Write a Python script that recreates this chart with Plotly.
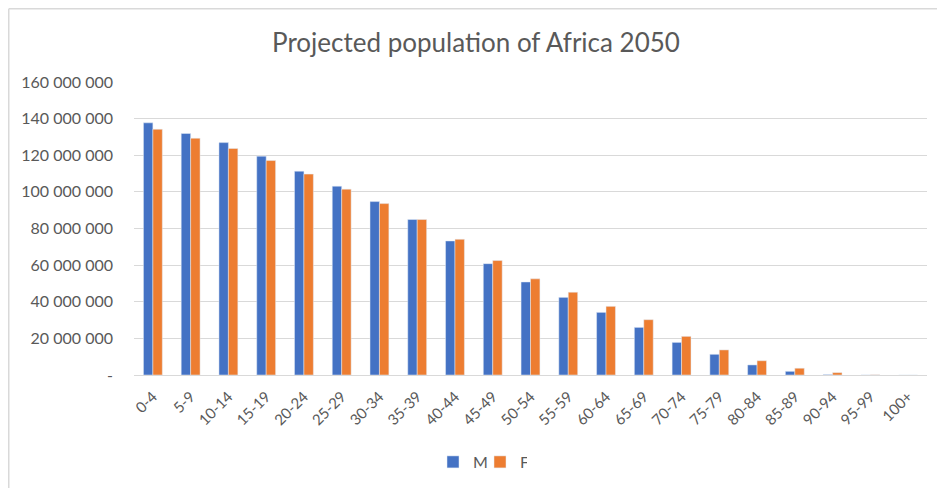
import plotly.graph_objects as go

age_groups = ["0-4", "5-9", "10-14", "15-19", "20-24", "25-29", "30-34", "35-39",
              "40-44", "45-49", "50-54", "55-59", "60-64", "65-69", "70-74", "75-79",
              "80-84", "85-89", "90-94", "95-99", "100+"]

male = [137.7, 131.9, 126.9, 119.5, 111.3, 103.1, 94.7, 84.9, 73.2, 60.8, 50.8,
        42.4, 34.2, 26.0, 17.8, 11.3, 5.5, 2.0, 0.25, 0.03, 0.0]
female = [134.2, 129.3, 123.7, 117.1, 109.7, 101.5, 93.6, 84.9, 74.1, 62.5, 52.5,
          45.2, 37.5, 30.2, 21.1, 13.7, 7.8, 3.7, 1.3, 0.12, 0.01]
male = [v * 1e6 for v in male]
female = [v * 1e6 for v in female]

y_ticks = [0, 20e6, 40e6, 60e6, 80e6, 100e6, 120e6, 140e6, 160e6]
y_labels = ["-", "20 000 000", "40 000 000", "60 000 000", "80 000 000",
            "100 000 000", "120 000 000", "140 000 000", "160 000 000"]

# page body adds an 8px offset, so the figure is sized/placed to compensate
W, H = 937, 480
L, R, T, B = 126, 18, 74, 113
pw, ph = W - L - R, H - T - B

font = "Lato"
grey = "#595959"

fig = go.Figure()
fig.add_trace(go.Bar(x=age_groups, y=male, name="M", marker_color="#4472C4"))
fig.add_trace(go.Bar(x=age_groups, y=female, name="F", marker_color="#ED7D31"))

# chart-area border (top and left only visible)
bx0 = (0.75 - L) / pw
by_top = (H - B - 0.75) / ph
by_bot = -(B + 5) / ph
bx1 = (W + 5 - L) / pw
fig.add_shape(type="line", xref="paper", yref="paper", x0=bx0, x1=bx1, y0=by_top, y1=by_top,
              line=dict(color="#D9D9D9", width=1.5))
fig.add_shape(type="line", xref="paper", yref="paper", x0=bx0, x1=bx0, y0=by_top, y1=by_bot,
              line=dict(color="#D9D9D9", width=1.5))

fig.update_layout(
    width=W, height=H,
    margin=dict(l=L, r=R, t=T, b=B, autoexpand=False),
    plot_bgcolor="white", paper_bgcolor="white",
    barmode="group", bargap=0.5, bargroupgap=0.0,
    title=dict(text="Projected population of Africa 2050", x=(468 - L) / pw, xanchor="center",
               xref="paper", y=1 - 35 / H, yanchor="middle",
               font=dict(family=font, size=26, color=grey)),
    font=dict(family=font, size=16, color=grey),
    legend=dict(orientation="h", x=(425 - L) / pw, xanchor="left", y=-87 / ph,
                yanchor="middle", font=dict(size=16, color=grey), itemwidth=30,
                entrywidth=2, entrywidthmode="pixels"),
    showlegend=True,
)
fig.update_xaxes(tickangle=-45, showgrid=False, showline=True, linecolor="#D9D9D9",
                 linewidth=1, ticks="", tickfont=dict(size=15, color=grey),
                 ticklabelstandoff=6, automargin=False)
fig.update_yaxes(range=[0, 160e6], tickvals=y_ticks, ticktext=y_labels,
                 showgrid=True, gridcolor="#D9D9D9", gridwidth=1, zeroline=False,
                 showline=False, ticks="", ticklabelstandoff=20, automargin=False,
                 tickfont=dict(size=16, color=grey))

fig.write_html("out.html")
